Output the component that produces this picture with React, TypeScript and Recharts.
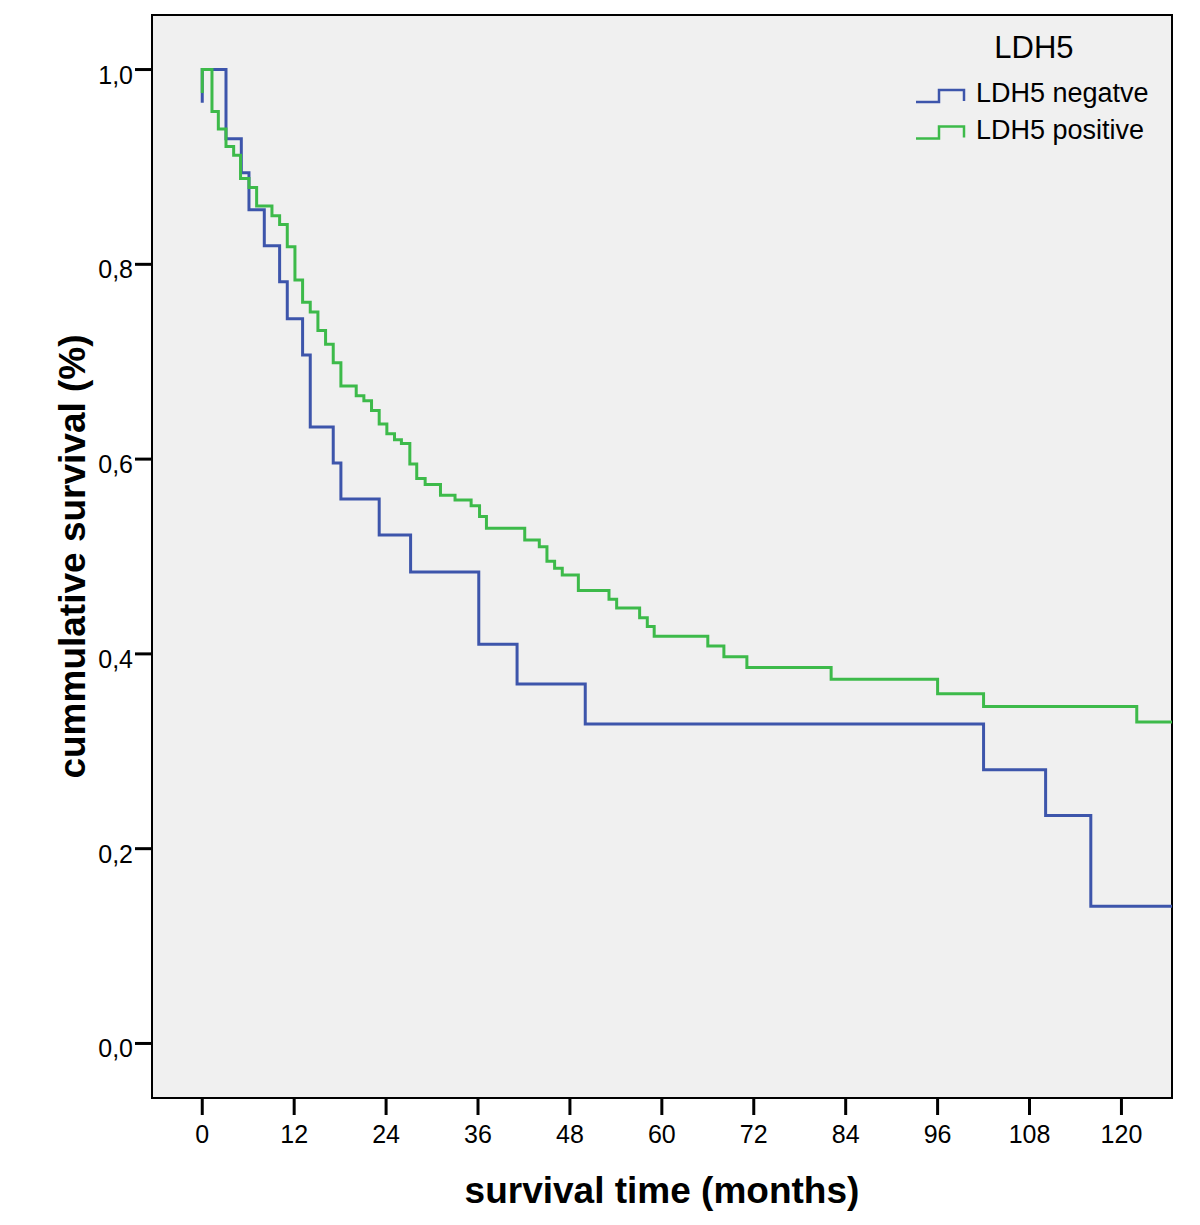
import { LineChart, Line, XAxis, YAxis, CartesianGrid, ReferenceArea, Legend } from "recharts";

// Kaplan-Meier steps (months, cumulative survival)
const negTimes = [0, 0, 3.1, 5.1, 6.1, 8.1, 10.1, 11.1, 13.1, 14.1, 17.1, 18.1, 23.1, 27.2, 36.1, 41.1, 50.0, 102.0, 110.1, 116.0, 126.6];
const negSurv = [0.966, 1.0, 0.929, 0.894, 0.856, 0.819, 0.782, 0.744, 0.707, 0.633, 0.596, 0.559, 0.522, 0.484, 0.41, 0.369, 0.328, 0.281, 0.234, 0.141, 0.141];

const posTimes = [
  0, 0, 1.27, 2.1, 3.1, 4.1, 5.0, 6.1, 7.1, 9.1, 10.1, 11.1, 12.1, 13.1, 14.1, 15.1, 16.1, 17.1, 18.1,
  20.1, 21.1, 22.1, 23.1, 24.1, 25.1, 26.0, 27.1, 28.0, 29.1, 31.1, 33.0, 35.1, 36.2, 37.1, 42.1, 44.0,
  45.0, 46.0, 47.0, 49.1, 53.1, 54.1, 57.1, 58.1, 59.0, 66.0, 68.1, 71.1, 82.1, 96.0, 102.0, 122.0, 126.6,
];
const posSurv = [
  0.976, 1.0, 0.957, 0.939, 0.921, 0.912, 0.888, 0.879, 0.86, 0.85, 0.841, 0.818, 0.784, 0.761, 0.751, 0.732, 0.718, 0.699, 0.675,
  0.665, 0.66, 0.65, 0.636, 0.626, 0.62, 0.616, 0.595, 0.58, 0.574, 0.563, 0.558, 0.552, 0.541, 0.529, 0.517, 0.51,
  0.495, 0.488, 0.481, 0.465, 0.456, 0.447, 0.437, 0.428, 0.418, 0.408, 0.397, 0.386, 0.374, 0.359, 0.346, 0.33, 0.33,
];

const xTicks = [0, 12, 24, 36, 48, 60, 72, 84, 96, 108, 120];
const yTicks = [0, 0.2, 0.4, 0.6, 0.8, 1.0];

const X_DOMAIN: [number, number] = [-6.56, 126.6];
const Y_DOMAIN: [number, number] = [-0.056, 1.056];

const BLUE = "#3d55ab";
const GREEN = "#3dba4a";
const FONT = "'Liberation Sans', Arial, sans-serif";

const toRows = (ts: number[], ss: number[]) => ts.map((t, i) => ({ t, s: ss[i] }));
const negData = toRows(negTimes, negSurv);
const posData = toRows(posTimes, posSurv);

const XTick = ({ x, y, payload }: any) => (
  <text x={x} y={y + 28} textAnchor="middle" fontSize={25} fill="#000" fontFamily={FONT}>
    {payload.value}
  </text>
);

const YTick = ({ x, y, payload }: any) => (
  <text x={x} y={y + 14} textAnchor="end" fontSize={25} fill="#000" fontFamily={FONT}>
    {Number(payload.value).toFixed(1).replace(".", ",")}
  </text>
);

const YTitle = ({ viewBox }: any) => {
  const x = viewBox.x + 33;
  const y = viewBox.y + viewBox.height / 2;
  return (
    <text x={x} y={y} transform={`rotate(-90 ${x} ${y})`} textAnchor="middle" fontSize={37} fontWeight="bold" fill="#000" fontFamily={FONT}>
      cummulative survival (%)
    </text>
  );
};

const XTitle = ({ viewBox }: any) => (
  <text x={viewBox.x + viewBox.width / 2} y={viewBox.y + 105} textAnchor="middle" fontSize={37} fontWeight="bold" fill="#000" fontFamily={FONT}>
    survival time (months)
  </text>
);

const renderLegend = ({ payload }: any) => (
  <svg width={280} height={130} style={{ fontFamily: FONT }}>
    <text x={134} y={38} textAnchor="middle" fontSize={31} fill="#000">LDH5</text>
    {(payload || []).map((p: any, i: number) => {
      const by = 82 + i * 36.5;
      return (
        <g key={p.value}>
          <path d={`M16 ${by} H39 V${by - 12} H64 V${by - 1}`} stroke={p.color} strokeWidth={2.5} fill="none" />
          <text x={76} y={by} fontSize={27} fill="#000">{p.value}</text>
        </g>
      );
    })}
  </svg>
);

export default function App() {
  return (
    <div style={{ position: "absolute", left: 0, top: 0, background: "#fff" }}>
      <LineChart width={1200} height={1225} margin={{ top: 15, right: 28, left: 52, bottom: 67 }} style={{ fontFamily: FONT }}>
        <CartesianGrid fill="#f0f0f0" horizontal={false} vertical={false} />
        <XAxis
          type="number"
          dataKey="t"
          domain={X_DOMAIN}
          allowDataOverflow
          ticks={xTicks}
          height={60}
          stroke="#000"
          strokeWidth={2}
          tickSize={17}
          tickMargin={0}
          tickLine={{ stroke: "#000", strokeWidth: 3 }}
          tick={<XTick />}
          label={{ content: <XTitle /> }}
        />
        <YAxis
          type="number"
          dataKey="s"
          domain={Y_DOMAIN}
          allowDataOverflow
          ticks={yTicks}
          width={100}
          stroke="#000"
          strokeWidth={2}
          tickSize={17}
          tickMargin={2}
          tickLine={{ stroke: "#000", strokeWidth: 3 }}
          tick={<YTick />}
          label={{ content: <YTitle /> }}
        />
        <ReferenceArea x1={X_DOMAIN[0]} x2={X_DOMAIN[1]} y1={Y_DOMAIN[0]} y2={Y_DOMAIN[1]} fill="none" stroke="#000" strokeWidth={2} />
        <Legend
          layout="horizontal"
          verticalAlign="middle"
          align="center"
          content={renderLegend}
          wrapperStyle={{ position: "absolute", left: 900, top: 20, width: 280, height: 130 }}
        />
        <Line data={negData} dataKey="s" name="LDH5 negatve" type="stepAfter" stroke={BLUE} strokeWidth={3} dot={false} activeDot={false} isAnimationActive={false} />
        <Line data={posData} dataKey="s" name="LDH5 positive" type="stepAfter" stroke={GREEN} strokeWidth={3} dot={false} activeDot={false} isAnimationActive={false} />
      </LineChart>
    </div>
  );
}
